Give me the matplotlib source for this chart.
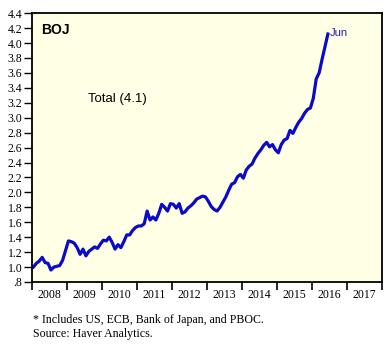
import numpy as np
import matplotlib
matplotlib.use('Agg')
import matplotlib.pyplot as plt

# BOJ total assets index, monthly Jan 2008 - Jun 2016
start_year = 2008
boj_total = [
    1.00, 1.05, 1.08, 1.13, 1.06, 1.05, 0.96, 1.00, 1.01, 1.02, 1.09, 1.22,
    1.35, 1.34, 1.32, 1.26, 1.17, 1.24, 1.15, 1.21, 1.24, 1.27, 1.25, 1.31,
    1.36, 1.35, 1.40, 1.33, 1.24, 1.30, 1.26, 1.34, 1.43, 1.43, 1.49, 1.53,
    1.55, 1.55, 1.58, 1.75, 1.63, 1.67, 1.63, 1.72, 1.84, 1.80, 1.75, 1.85,
    1.84, 1.79, 1.85, 1.72, 1.74, 1.79, 1.82, 1.86, 1.91, 1.93, 1.95, 1.94,
    1.88, 1.81, 1.77, 1.75, 1.80, 1.87, 1.94, 2.03, 2.11, 2.13, 2.21, 2.24,
    2.19, 2.30, 2.35, 2.38, 2.46, 2.52, 2.57, 2.63, 2.67, 2.61, 2.64, 2.57,
    2.53, 2.64, 2.70, 2.72, 2.83, 2.79, 2.87, 2.94, 2.99, 3.06, 3.11, 3.13,
    3.26, 3.52, 3.60, 3.78, 3.95, 4.12,
]
years = list(range(2008, 2018))
ytick_vals = [0.8, 1.0, 1.2, 1.4, 1.6, 1.8, 2.0, 2.2, 2.4, 2.6, 2.8,
              3.0, 3.2, 3.4, 3.6, 3.8, 4.0, 4.2, 4.4]
ytick_labels = ['.8', '1.0', '1.2', '1.4', '1.6', '1.8', '2.0', '2.2', '2.4',
                '2.6', '2.8', '3.0', '3.2', '3.4', '3.6', '3.8', '4.0',
                '4.2', '4.4']

serif = 'Liberation Serif'
sans = 'Liberation Sans'
line_color = '#0a0ac8'

x = start_year + (np.arange(len(boj_total)) + 0.5) / 12.0

fig = plt.figure(figsize=(3.9, 3.46), dpi=100)
ax = fig.add_axes([0.082, 0.185, 0.897, 0.777])
ax.set_facecolor('#ffffe6')
ax.plot(x, boj_total, color=line_color, lw=2.3, solid_joinstyle='round')

ax.set_xlim(2008, 2018)
ax.set_ylim(0.8, 4.4)
ax.set_yticks(ytick_vals)
ax.set_yticklabels(ytick_labels, family=serif, fontsize=8.5)
ax.tick_params(axis='y', direction='out', length=6, width=1, pad=1)

# year boundaries as ticks, labels centred in each year
ax.set_xticks(years + [2018])
ax.set_xticklabels([])
ax.set_xticks([y + 0.5 for y in years], minor=True)
ax.set_xticklabels([str(y) for y in years], minor=True, family=serif, fontsize=8.5)
ax.tick_params(axis='x', which='major', direction='out', length=6, width=1.2)
ax.tick_params(axis='x', which='minor', length=0, pad=5)

for s in ax.spines.values():
    s.set_linewidth(1.3)

ax.text(0.025, 0.965, 'BOJ', transform=ax.transAxes, ha='left', va='top',
        family=sans, fontweight='bold', fontsize=10)
ax.text(0.16, 0.68, 'Total (4.1)', transform=ax.transAxes, ha='left', va='center',
        family=sans, fontsize=9.5)
ax.annotate('Jun', (x[-1], boj_total[-1]), xytext=(1.5, 1), textcoords='offset points',
            ha='left', va='center', color='#2020b0', family=sans, fontsize=8)

fig.text(0.085, 0.075, '* Includes US, ECB, Bank of Japan, and PBOC.',
         family=serif, fontsize=8.6, va='center')
fig.text(0.085, 0.035, 'Source: Haver Analytics.', family=serif, fontsize=8.6,
         va='center')

fig.savefig('out.png', dpi=100)
